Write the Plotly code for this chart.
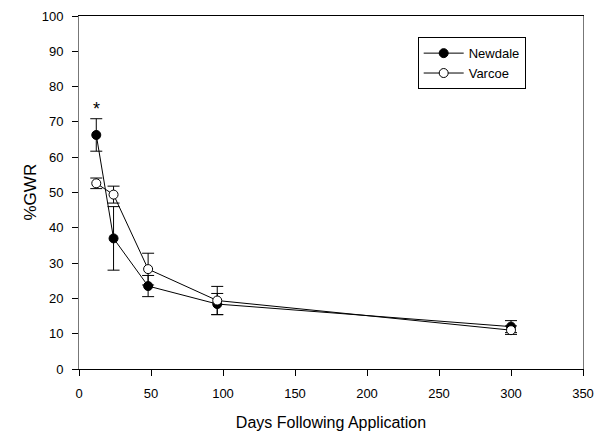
import plotly.graph_objects as go

days = [12, 24, 48, 96, 300]
newdale = [66.3, 37.0, 23.5, 18.4, 12.0]
newdale_err = [4.6, 9.0, 3.0, 3.0, 1.7]
varcoe = [52.6, 49.4, 28.3, 19.4, 11.0]
varcoe_err = [1.5, 2.4, 4.5, 4.0, 1.2]
x_ticks = [0, 50, 100, 150, 200, 250, 300, 350]
y_ticks = [0, 10, 20, 30, 40, 50, 60, 70, 80, 90, 100]

fig = go.Figure()
fig.add_trace(go.Scatter(
    x=days, y=newdale, name="Newdale", mode="lines+markers",
    line=dict(color="black", width=1),
    marker=dict(symbol="circle", size=9, color="black", line=dict(color="black", width=1)),
    error_y=dict(type="data", array=newdale_err, visible=True, color="black", thickness=1, width=6),
))
fig.add_trace(go.Scatter(
    x=days, y=varcoe, name="Varcoe", mode="lines+markers",
    line=dict(color="black", width=1),
    marker=dict(symbol="circle", size=9, color="white", line=dict(color="black", width=1)),
    error_y=dict(type="data", array=varcoe_err, visible=True, color="black", thickness=1, width=6),
))
fig.add_annotation(x=12, y=74.3, text="*", showarrow=False,
                   font=dict(size=18, color="black", family="Liberation Sans"), yshift=-2)
fig.add_annotation(x=0, y=0.5, xref="paper", yref="paper", text="%GWR", showarrow=False,
                   textangle=-90, xanchor="center", yanchor="middle", xshift=-49,
                   font=dict(size=17, color="black"))

fig.update_layout(
    width=608, height=432,
    margin=dict(l=79, r=25, t=16, b=63),
    paper_bgcolor="white", plot_bgcolor="white",
    font=dict(family="Liberation Sans, Arial, sans-serif", size=13, color="black"),
    showlegend=True,
    legend=dict(x=0.672, y=0.94, xanchor="left", yanchor="top",
                bordercolor="black", borderwidth=1, bgcolor="white",
                font=dict(size=13), tracegroupgap=0, itemwidth=40,
                traceorder="normal"),
)
fig.update_xaxes(
    range=[0, 350], tickvals=x_ticks, ticktext=[str(v) for v in x_ticks],
    showline=True, linecolor="black", linewidth=1, mirror=True,
    ticks="outside", ticklen=6, tickcolor="black", showgrid=False, zeroline=False,
    ticklabelstandoff=6, automargin=False,
    title=dict(text="Days Following Application", font=dict(size=16), standoff=17),
)
fig.update_yaxes(
    range=[0, 100], tickvals=y_ticks, ticktext=[str(v) for v in y_ticks],
    showline=True, linecolor="#777777", linewidth=1, mirror=True,
    ticks="outside", ticklen=6, tickcolor="black", showgrid=False, zeroline=False,
    ticklabelstandoff=6, automargin=False,
)
fig.write_html("out.html")
